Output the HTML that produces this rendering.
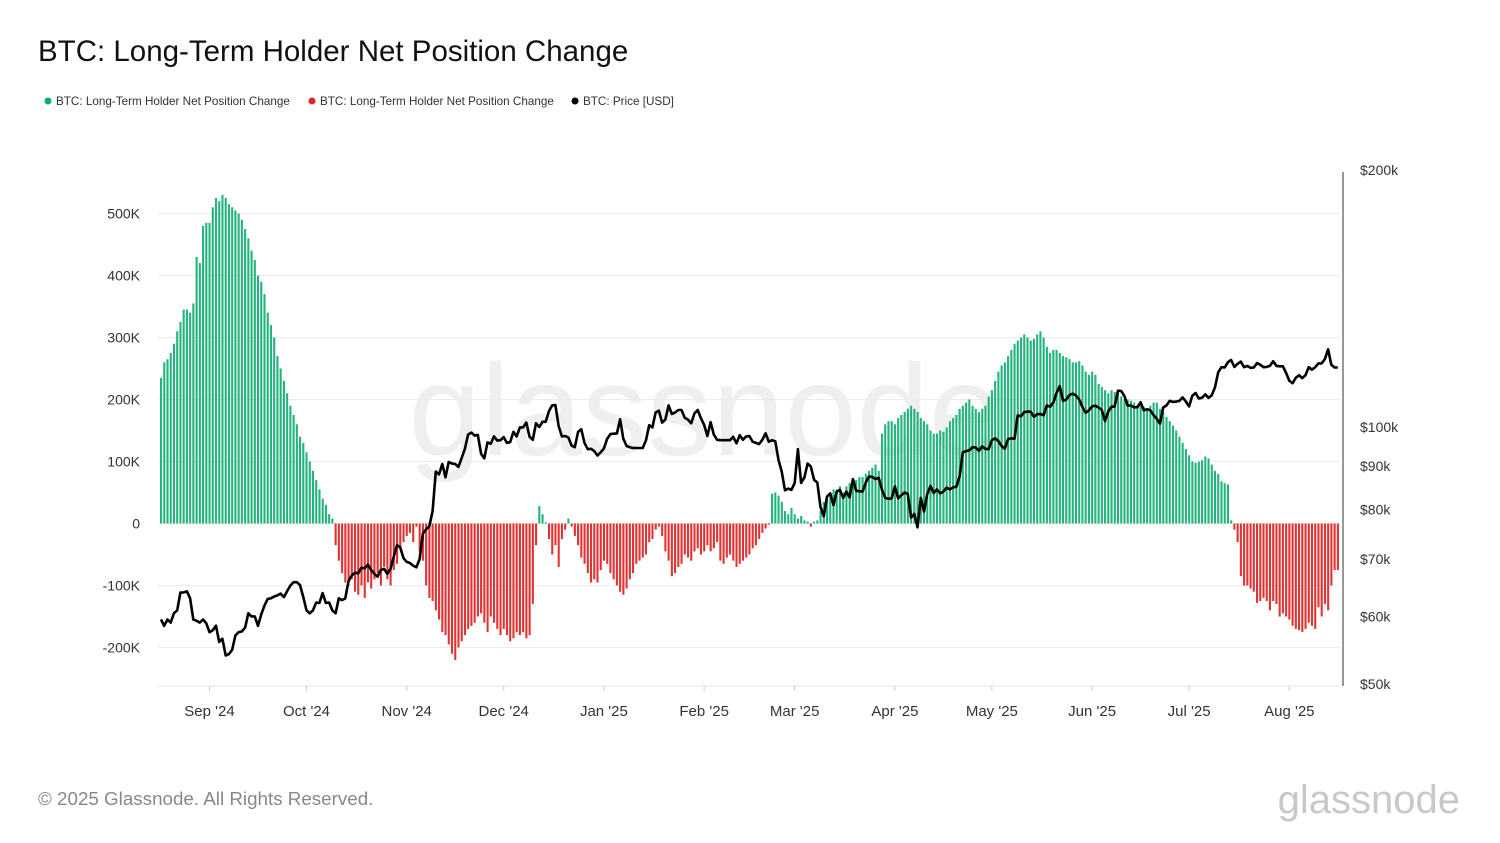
<!DOCTYPE html>
<html><head><meta charset="utf-8"><style>
body{margin:0;background:#fff;font-family:"Liberation Sans",sans-serif;}
#wrap{position:relative;width:1500px;height:843px;overflow:hidden;}
</style></head><body>
<div id="wrap">
<svg id="svg" width="1500" height="843">
<text x="38" y="61" font-size="29.5" fill="#111">BTC: Long-Term Holder Net Position Change</text>
<g font-size="11.7" fill="#333">
<g><circle cx="48" cy="101" r="3.5" fill="#16a970"/><text x="56" y="105">BTC: Long-Term Holder Net Position Change</text></g>
<g><circle cx="312" cy="101" r="3.5" fill="#e0262c"/><text x="320" y="105">BTC: Long-Term Holder Net Position Change</text></g>
<g><circle cx="575" cy="101" r="3.5" fill="#000"/><text x="583" y="105">BTC: Price [USD]</text></g>
</g>
<text x="705" y="455" font-size="130" fill="#efefef" text-anchor="middle">glassnode</text>
<g id="grid"></g><g id="bars"></g><g id="line"></g><g id="axes"></g>
<text x="38" y="805" font-size="18.8" fill="#888">© 2025 Glassnode. All Rights Reserved.</text>
<text x="1460" y="813" font-size="40" fill="#c8c8c8" text-anchor="end">glassnode</text>
</svg></div>
<script>
const leftTicks=[500,400,300,200,100,0,-100,-200];
const leftTickLabels=["500K","400K","300K","200K","100K","0","-100K","-200K"];
const rightTicks=[200,100,90,80,70,60,50];
const rightTickLabels=["$200k","$100k","$90k","$80k","$70k","$60k","$50k"];
const monthLabels=["Sep '24","Oct '24","Nov '24","Dec '24","Jan '25","Feb '25","Mar '25","Apr '25","May '25","Jun '25","Jul '25","Aug '25"];
const monthDayIdx=[15,45,76,106,137,168,196,227,257,288,318,349];
const netChange=[
235,260,265,275,290,310,325,345,345,340,355,430,420,480,485,
485,510,525,520,530,525,515,510,505,500,490,475,460,440,425,400,390,370,340,320,300,270,250,230,210,190,175,160,140,130,
115,100,85,70,55,40,30,15,8,-35,-60,-80,-95,-100,-90,-110,-115,-100,-120,-95,-105,-90,-80,-100,-70,-90,-100,-75,-65,-40,-30,
-20,-15,-30,-5,-45,-60,-100,-120,-125,-140,-155,-175,-180,-195,-210,-220,-200,-190,-180,-170,-165,-160,-150,-145,-160,-175,-150,-160,-170,-180,
-170,-180,-190,-185,-175,-180,-175,-185,-180,-130,-35,28,15,2,-25,-50,-35,-70,-25,-10,8,-5,-20,-35,-55,-65,-80,-95,-90,-95,-75,
-60,-65,-80,-90,-100,-110,-115,-105,-90,-80,-65,-60,-55,-50,-30,-25,-10,-5,-20,-45,-60,-85,-80,-70,-65,-50,-55,-60,-45,-40,-50,
-45,-35,-45,-40,-30,-60,-65,-55,-50,-60,-70,-65,-60,-55,-50,-40,-35,-25,-15,-8,-2,48,50,45,35,20,15,25,
15,8,12,5,3,-5,3,5,20,35,45,50,55,55,60,50,60,65,60,70,75,75,80,85,90,95,85,145,160,165,165,
160,170,175,180,185,190,185,180,170,165,160,150,145,145,150,148,155,165,170,175,185,190,195,200,190,185,180,185,190,205,
215,230,245,255,260,270,280,290,295,300,305,300,295,298,305,310,300,285,275,280,280,275,270,268,265,260,260,262,255,245,240,
245,240,225,220,215,210,215,212,210,205,200,200,198,195,190,190,188,185,190,195,195,185,180,172,165,158,150,140,130,120,
110,100,98,100,102,108,105,95,85,80,68,65,63,5,-10,-30,-85,-100,-100,-105,-110,-128,-125,-120,-125,-140,-125,-130,-150,-145,-150,
-155,-165,-170,-172,-175,-170,-160,-165,-170,-135,-150,-130,-140,-100,-75,-75];
const price=[
59.5,58.5,59.5,59,60.5,61,64,64,64.2,63,59.5,59.3,59,59.5,58.9,
57.5,57.8,58.5,56,56.5,54,54.2,54.8,57,57.5,57.6,58.2,60.5,60,60,58.5,60.3,61.8,62.9,63,63.3,63.5,63.8,63.2,64.2,65.2,65.8,65.8,65.3,63.2,
61,60.5,61,62.3,62.2,63.9,62.2,62.3,61,60.5,63,62.7,63,66,67,67.5,67.4,68.4,68.3,69,68,67.3,66.8,68,68.2,67.3,68.2,70.5,72.7,72.3,70.2,
69.5,69.3,68.8,68.5,70,75,75.9,76.5,79.7,88.7,88,90.5,87.3,91,90.6,90.5,89.8,92,94.3,98,98.5,97.7,97.9,93,91.9,95.9,95.6,97.5,96.4,96.5,
97.3,95.8,96,98.7,97.5,99.9,99.9,101.2,97.4,96.6,101,100,101.4,101.4,104.4,106,106.1,100.2,97.5,97.6,97.2,95.1,94.7,98.7,99.4,95.8,94.2,94.3,93.7,92.6,93.4,
94.4,96.9,98.1,98.2,98.3,102.1,96.9,95,94.7,94.5,94.5,94.5,94.5,96.5,100.5,99.9,104,104.5,101.2,102,106,103.6,104,104.7,104.7,102.5,102,101,103.7,104.7,102.4,
100.6,97.6,101.3,98,96.6,96.5,96.5,96.5,96.5,97.4,95.7,97.8,96.6,97.5,97.6,96.1,95.8,95.5,96.6,98.3,96.1,96.5,96.2,91.5,88.7,84.3,84.7,84.4,
86,94.2,86,87.3,90.6,89.9,86.7,86.1,80.6,78.6,82.9,83.6,81,84,84.4,82.6,84,82.7,86.9,84.2,84.1,84,86.1,87.5,87.4,86.9,87.2,84.4,82.6,82.4,82.5,
85.2,82.5,83.2,83.8,83.5,78.3,79.1,76.3,82.6,79.6,83.4,85.3,83.7,84.5,83.6,84,84.9,84.5,85,85.1,87.5,93.4,93.7,93.9,94.7,94.6,93.8,94.9,94.3,94.2,
96.5,97,96.3,95,94.3,96.8,97,96.9,103.2,102.9,104.1,104.2,104.2,102.8,103.5,103.6,103.2,106,105.6,106.8,109.6,111.7,107.3,107.7,109,109.4,108.9,107.7,105.6,103.9,104.6,
105.7,105.9,105.4,104.7,101.6,104.3,105.6,105.7,110.3,110.2,108.7,105.9,106,105.4,105.5,106.9,104.6,104.9,104.6,103.3,102.2,100.9,105.4,106,107.3,107,107.1,107.3,108.3,107.1,
105.7,108.8,109.6,108,108.2,109.2,108.2,108.9,111.3,115.9,117.5,117.4,119.1,119.8,117.6,118.6,119.3,117.5,117.9,117.3,117.4,118.8,118.3,117.5,117.6,117.9,119.4,117.9,117.8,117.8,115.7,
113.3,112.5,114.2,115,114.1,115,117.5,116.7,117.5,118.7,118.7,120.1,123.3,118.3,117.4,117.4];

const NS="http://www.w3.org/2000/svg";
const X0=161,DW=3.233,PL=158,PR=1340;
const xOf=i=>X0+i*DW;
const yL=v=>523.5-v*0.62;
const yR=p=>427-Math.log2(p/100)*257;
function mk(tag,attrs,parent){const e=document.createElementNS(NS,tag);for(const k in attrs)e.setAttribute(k,attrs[k]);parent.appendChild(e);return e;}
const grid=document.getElementById('grid'),axes=document.getElementById('axes'),bars=document.getElementById('bars'),line=document.getElementById('line');
leftTicks.forEach((t,i)=>{
  const g=mk('line',{x1:PL,x2:PR,y1:yL(t),y2:yL(t),stroke:'#ececec','stroke-width':1},grid);
  
  
  const tx=mk('text',{x:140,y:yL(t)+5,'font-size':14,fill:'#333','text-anchor':'end'},axes);
  tx.textContent=leftTickLabels[i];
  
  
});
const bl=mk('line',{x1:PL,x2:PR,y1:686,y2:686,stroke:'#e4e4e4'},grid);


const ra=mk('line',{x1:1343,x2:1343,y1:172,y2:686,stroke:'#777','stroke-width':1.5},axes);


rightTicks.forEach((t,i)=>{
  const tx=mk('text',{x:1360,y:yR(t)+5,'font-size':14,fill:'#333'},axes);
  tx.textContent=rightTickLabels[i];
  
  
});
monthLabels.forEach((m,i)=>{
  const x=xOf(monthDayIdx[i]);
  const tk=mk('line',{x1:x,x2:x,y1:686,y2:691,stroke:'#ccc'},axes);
  
  
  const tx=mk('text',{x:x,y:716,'font-size':15,fill:'#333','text-anchor':'middle'},axes);
  tx.textContent=m;
  
  
});
netChange.forEach((v,i)=>{
  const x=xOf(i)-1,y0=yL(0),y1=yL(v);
  const r=mk('rect',{x:x,y:Math.min(y0,y1),width:2.1,height:Math.max(0.5,Math.abs(y1-y0)),fill:v>=0?'#22b47c':'#e23333'},bars);
  
  
});
const pts=price.map((p,i)=>xOf(i).toFixed(1)+','+yR(p).toFixed(1)).join(' ');
const pl=mk('polyline',{points:pts,fill:'none',stroke:'#000','stroke-width':2.6,'stroke-linejoin':'round'},line);


</script>
</body></html>
